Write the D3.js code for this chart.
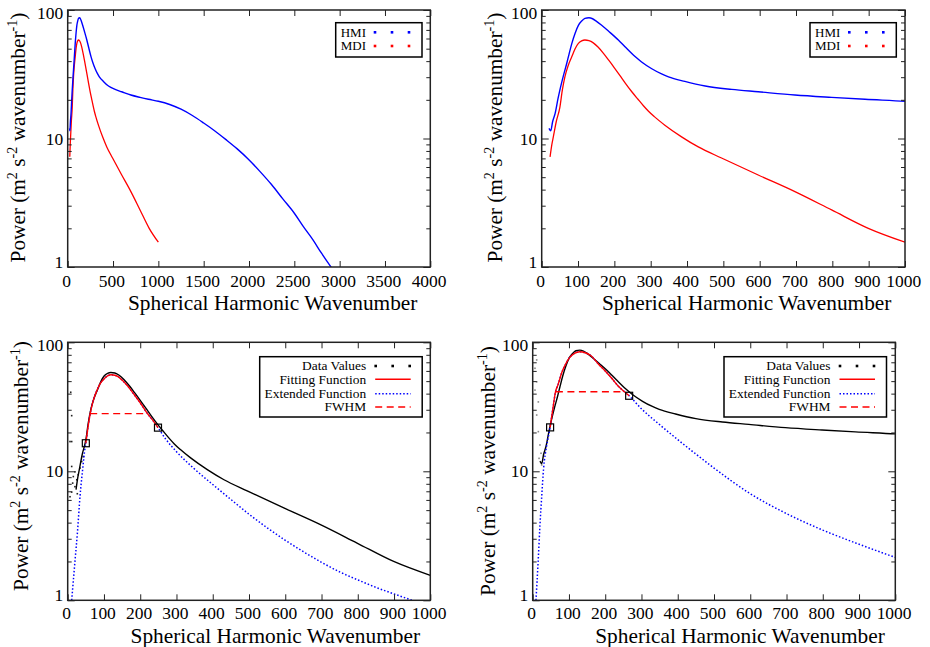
<!DOCTYPE html>
<html><head><meta charset="utf-8">
<script src="https://cdn.jsdelivr.net/npm/d3@7"></script>
<style>
body{margin:0;background:#fff}
svg{display:block}
</style>
</head><body>
<svg id="c" width="930" height="647"></svg>
<script>
// ---------------- data ----------------
const xTicksWide = [0,500,1000,1500,2000,2500,3000,3500,4000];
const xTicksNarrow = [0,100,200,300,400,500,600,700,800,900,1000];
const yTicksMajor = [1,10,100];
const yTicksMinor = [2,3,4,5,6,7,8,9,20,30,40,50,60,70,80,90];

// HMI power spectrum [wavenumber, power]
const HMI = [[20,12],[25,11.5],[30,13.5],[37,15.7],[45,20.5],[50,23.8],[60,31],[69,38.5],[75,45],[83,55],
 [92,66],[101,76],[110,82],[119,86],[130,87],[140,85.5],[150,82],[165,76],[185,68],[211,58.4],[230,51.5],
 [257,43.4],[275,39.4],[303,34.9],[330,31.8],[349,30.2],[394,27.8],[450,25.6],[523,24.1],[596,23.1],
 [697,21.8],[798,20.9],[890,20.2],[1000,19.5],[1125,18.4],[1250,16.9],[1375,15.1],[1500,13.2],[1620,11.5],
 [1746,9.8],[1870,8.3],[1993,6.9],[2120,5.55],[2246,4.4],[2373,3.39],[2500,2.62],[2600,2.06],[2702,1.64],
 [2800,1.28],[2904,1.0],[3000,0.79]];

// MDI power spectrum [wavenumber, power]
const MDI = [[23,7.2],[28,9.0],[32,10.3],[40,13.5],[50,17.5],[57,24],[64,30.3],[73,37],[83,43.4],[92,50],
 [101,55],[110,57.5],[119,58.4],[130,57.8],[142,55.5],[155,51.5],[170,46],[185,40.5],[200,35.5],[215,31],
 [230,27],[248,23.1],[265,20.2],[280,18.0],[294,16.3],[310,14.8],[339,12.7],[385,10.3],[431,8.6],[495,7.05],
 [596,5.2],[697,3.86],[798,2.78],[899,2.0],[1000,1.56]];

// scattered low-wavenumber data values
const noiseMDI = [[6.4,6.35],[11,6.9],[13.7,8.1],[15.5,9.1],[20,9.9],[20,7.6],[25,8.6],[26.5,6.7],[29,9.4],
 [34,10.6],[38.6,11.9],[43,13],[11,10.9],[11,17],[11,27],[8.3,41],[6.4,17]];
const noiseHMI = [[6.3,62.9],[11,49.4],[6.3,42.6],[15.5,34.5],[11,27.3],[15.5,20.3],[20,16],[23,13.8],
 [11,73],[17.5,12.6],[24.8,11.2],[34,14]];

// MDI fit (bottom-left)
const fitMDI = [[50,16.5],[56,22],[62,28],[70,35],[80,42],[90,48],[100,52],[110,55],[120,56],[130,55.5],
 [140,54],[150,51],[165,46],[180,40.5],[200,34],[220,28],[235,24.8],[249,21.8]];
const extMDI = [[11,1.0],[20,2.0],[27,3.4],[34,6.4],[41,10.2],[48,15.3],[50,16.5],[56,22],[62,28],[70,35],
 [80,42],[90,48],[100,52],[110,55],[120,56],[130,55.5],[140,54],[150,51],[165,46],[180,40.5],[200,34],
 [220,28],[235,24.8],[249,21.8],[270,17.8],[300,14.2],[350,10.4],[400,7.9],[450,6.05],[500,4.65],[550,3.65],
 [600,2.92],[650,2.38],[700,1.97],[750,1.66],[800,1.44],[850,1.26],[900,1.12],[950,1.0],[1000,0.9]];
const fwhmMDI = [[62,28],[222,28]];
const markMDI = [[50,16.5],[249,21.8]];

// HMI fit (bottom-right)
const fitHMI = [[48,21.9],[56,31],[63,41.4],[70,47],[80,58],[90,67],[100,75],[115,82],[130,84.5],[145,83],
 [160,79],[181,68],[200,60],[218,52.6],[235,46],[253,41.4],[266,38.5]];
const extHMI = [[9,1.0],[15,2.0],[20,3.8],[25,6.5],[30,10.5],[38,15.5],[48,21.9],[56,31],[63,41.4],[70,47],
 [80,58],[90,67],[100,75],[115,82],[130,84.5],[145,83],[160,79],[181,68],[200,60],[218,52.6],[235,46],
 [253,41.4],[266,38.5],[300,30.5],[350,23],[400,17.6],[450,13.6],[500,10.6],[600,6.7],[700,4.7],
 [800,3.5],[900,2.72],[1000,2.15]];
const fwhmHMI = [[64,41.4],[253,41.4]];
const markHMI = [[48,21.9],[266,38.5]];

// ---------------- font selection & size fitting ----------------
const cv = document.createElement("canvas").getContext("2d");
function mw(txt, size, fam){ cv.font = `${size}px ${fam}`; return cv.measureText(txt).width; }
const cands = ["Liberation Serif","Tinos","Times New Roman","DejaVu Serif","Noto Serif","FreeSerif","Nimbus Roman"];
let FAM = "serif";
for (const c of cands){
  const probe = "mmmmlliWWxyz0123";
  const a = mw(probe, 40, `"${c}", monospace`), b = mw(probe, 40, "monospace");
  const a2 = mw(probe, 40, `"${c}", sans-serif`), b2 = mw(probe, 40, "sans-serif");
  if (Math.abs(a-b) > 0.5 && Math.abs(a2-b2) > 0.5){ FAM = `"${c}"`; break; }
}
FAM = FAM + ", serif";
const fit = (txt, target, base) => base * target / mw(txt, base, FAM);
const TICK_FS = fit("000", 26.2, 18);
const XT_FS = fit("Spherical Harmonic Wavenumber", 290, 21);
const yParts = w => mw("Power (m",w,FAM)+mw(" s",w,FAM)+mw(" wavenumber",w,FAM)+mw(")",w,FAM)
                 + mw("2",w*0.667,FAM)+mw("-2",w*0.667,FAM)+mw("-1",w*0.667,FAM);
const YT_FS = 21 * 250 / yParts(21);
const LGT_FS = fit("HMI", 25.3, 13);
const LGB_FS = fit("Extended Function", 101.7, 13.5);

// ---------------- layout ----------------
const BLUE = "#0000ff", RED = "#ff0000", BLACK = "#000";
const panels = [
 {L:67.7,R:430.3,T:10,B:267,xmax:4000,xt:xTicksWide,ytx:25,yty:137.5,xtx:272.7,xty:310,lbl:20,
  kind:"top", lx:335.7, ly:22.7},
 {L:541.7,R:905,T:10,B:267,xmax:1000,xt:xTicksNarrow,ytx:502,yty:137.5,xtx:746.7,xty:310,lbl:20,
  kind:"top", lx:810, ly:22.7},
 {L:67.7,R:430.3,T:342.3,B:600.3,xmax:1000,xt:xTicksNarrow,ytx:28,yty:466,xtx:275.3,xty:642.5,lbl:19,
  kind:"bot", lx:259.7, ly:356.7, data:MDI, noise:noiseMDI, fit:fitMDI, ext:extMDI, fwhm:fwhmMDI, mark:markMDI},
 {L:532.7,R:895.3,T:342.3,B:600.3,xmax:1000,xt:xTicksNarrow,ytx:495,yty:471,xtx:740,xty:642.5,lbl:19,
  kind:"bot", lx:724, ly:356.7, data:HMI, noise:noiseHMI, fit:fitHMI, ext:extHMI, fwhm:fwhmHMI, mark:markHMI}
];

const svg = d3.select("#c");
svg.append("rect").attr("width",930).attr("height",647).attr("fill","#fff");
const defs = svg.append("defs");

panels.forEach((p,i)=>{
  const x = d3.scaleLinear().domain([0,p.xmax]).range([p.L,p.R]);
  const y = d3.scaleLog().domain([1,100]).range([p.B,p.T]);
  const g = svg.append("g").attr("font-family",FAM).attr("fill","#000");
  const cid = "clip"+i;
  defs.append("clipPath").attr("id",cid).append("rect")
    .attr("x",p.L).attr("y",p.T).attr("width",p.R-p.L).attr("height",p.B-p.T);
  const plot = g.append("g").attr("clip-path",`url(#${cid})`);
  const line = d3.line().x(d=>x(d[0])).y(d=>y(d[1])).curve(d3.curveMonotoneX);

  if(p.kind==="top"){
    plot.append("path").attr("d",line(MDI)).attr("fill","none").attr("stroke",RED).attr("stroke-width",1.3);
    plot.append("path").attr("d",line(HMI)).attr("fill","none").attr("stroke",BLUE).attr("stroke-width",1.4);
  } else {
    plot.selectAll("rect.n").data(p.noise).enter().append("rect").attr("class","n")
      .attr("x",d=>x(d[0])-0.8).attr("y",d=>y(d[1])-0.8).attr("width",1.6).attr("height",1.6)
      .attr("fill", i===3 ? "#888" : "#222");
    plot.append("path").attr("d",line(p.data)).attr("fill","none").attr("stroke",BLACK).attr("stroke-width",1.4);
    plot.append("path").attr("d",line(p.ext)).attr("fill","none").attr("stroke",BLUE).attr("stroke-width",1.5)
      .attr("stroke-dasharray","1.5,2");
    plot.append("path").attr("d",line(p.fit)).attr("fill","none").attr("stroke",RED).attr("stroke-width",1.4);
    plot.append("path").attr("d",line(p.fwhm)).attr("fill","none").attr("stroke",RED).attr("stroke-width",1.4)
      .attr("stroke-dasharray","7,4.5");
    plot.selectAll("rect.m").data(p.mark).enter().append("rect").attr("class","m")
      .attr("x",d=>x(d[0])-3.5).attr("y",d=>y(d[1])-3.5).attr("width",7).attr("height",7)
      .attr("fill","none").attr("stroke","#000").attr("stroke-width",1.2);
  }

  // ticks (inward, all four sides)
  const tk = (gen, tx, ty) => {
    const a = g.append("g").attr("transform",`translate(${tx},${ty})`).call(gen);
    a.select(".domain").remove();
    a.selectAll("line").attr("stroke","#222").attr("stroke-width",1);
    a.selectAll("text").remove();
  };
  tk(d3.axisBottom(x).tickValues(p.xt).tickSize(-6).tickFormat(""),0,p.B);
  tk(d3.axisTop(x).tickValues(p.xt).tickSize(-6).tickFormat(""),0,p.T);
  tk(d3.axisLeft(y).tickValues(yTicksMajor).tickSize(-7).tickFormat(""),p.L,0);
  tk(d3.axisLeft(y).tickValues(yTicksMinor).tickSize(-4).tickFormat(""),p.L,0);
  tk(d3.axisRight(y).tickValues(yTicksMajor).tickSize(-7).tickFormat(""),p.R,0);
  tk(d3.axisRight(y).tickValues(yTicksMinor).tickSize(-4).tickFormat(""),p.R,0);

  // frame
  g.append("rect").attr("x",p.L).attr("y",p.T).attr("width",p.R-p.L).attr("height",p.B-p.T)
    .attr("fill","none").attr("stroke","#222").attr("stroke-width",1.5);

  // tick labels
  g.selectAll("text.xl").data(p.xt).enter().append("text").attr("class","xl")
    .attr("x",d=>x(d)-1.2).attr("y",p.B+p.lbl).attr("text-anchor","middle").attr("font-size",TICK_FS).text(d=>d);
  g.selectAll("text.yl").data(yTicksMajor).enter().append("text").attr("class","yl")
    .attr("x",p.L-4.5).attr("y",d=>Math.min(p.B+0.5,Math.max(p.T+8.5,y(d)+6)))
    .attr("text-anchor","end").attr("font-size",TICK_FS).text(d=>d);

  // axis titles
  g.append("text").attr("x",p.xtx).attr("y",p.xty).attr("text-anchor","middle").attr("font-size",XT_FS)
    .text("Spherical Harmonic Wavenumber");
  const sup = YT_FS*0.667, sh = YT_FS*0.38;
  const t = g.append("text").attr("transform",`translate(${p.ytx},${p.yty}) rotate(-90)`)
    .attr("text-anchor","middle").attr("font-size",YT_FS);
  t.append("tspan").text("Power (m");
  t.append("tspan").attr("dy",-sh).attr("font-size",sup).text("2");
  t.append("tspan").attr("dy",sh).text(" s");
  t.append("tspan").attr("dy",-sh).attr("font-size",sup).text("-2");
  t.append("tspan").attr("dy",sh).text(" wavenumber");
  t.append("tspan").attr("dy",-sh).attr("font-size",sup).text("-1");
  t.append("tspan").attr("dy",sh).text(")");

  // legends
  if(p.kind==="top"){
    const lg = g.append("g").attr("transform",`translate(${p.lx},${p.ly})`);
    lg.append("rect").attr("width",86.3).attr("height",34.3).attr("fill","#fff").attr("stroke","#000").attr("stroke-width",1.5);
    const items = [{t:"HMI",c:BLUE,yb:14,ys:9.6},{t:"MDI",c:RED,yb:27.3,ys:23.3}];
    items.forEach(it=>{
      lg.append("text").attr("x",5).attr("y",it.yb).attr("font-size",LGT_FS).text(it.t);
      [39.3,56.3,73.3].forEach(dx=>lg.append("rect").attr("x",dx-1.3).attr("y",it.ys-1.3)
        .attr("width",2.6).attr("height",2.6).attr("fill",it.c));
    });
  } else {
    const lg = g.append("g").attr("transform",`translate(${p.lx},${p.ly})`);
    lg.append("rect").attr("width",162.5).attr("height",60.3).attr("fill","#fff").attr("stroke","#000").attr("stroke-width",1.5);
    const tx = 106.5, s0 = 115.5, s1 = 151;
    const names = ["Data Values","Fitting Function","Extended Function","FWHM"];
    const yb = [13.6,27.6,41,54.3], ys = [9.3,22.6,37,50.3];
    names.forEach((n,k)=>lg.append("text").attr("x",tx).attr("y",yb[k]).attr("text-anchor","end").attr("font-size",LGB_FS).text(n));
    [s0+0.5,s0+17.5,s0+34.5].forEach(dx=>lg.append("rect").attr("x",dx-1.3).attr("y",ys[0]-1.3).attr("width",2.6).attr("height",2.6).attr("fill","#000"));
    lg.append("line").attr("x1",s0).attr("x2",s1).attr("y1",ys[1]).attr("y2",ys[1]).attr("stroke",RED).attr("stroke-width",1.4);
    lg.append("line").attr("x1",s0).attr("x2",s1).attr("y1",ys[2]).attr("y2",ys[2]).attr("stroke",BLUE).attr("stroke-width",1.5).attr("stroke-dasharray","1.5,2");
    lg.append("line").attr("x1",s0).attr("x2",s1).attr("y1",ys[3]).attr("y2",ys[3]).attr("stroke",RED).attr("stroke-width",1.4).attr("stroke-dasharray","7,4.5");
  }
});
</script>
</body></html>
